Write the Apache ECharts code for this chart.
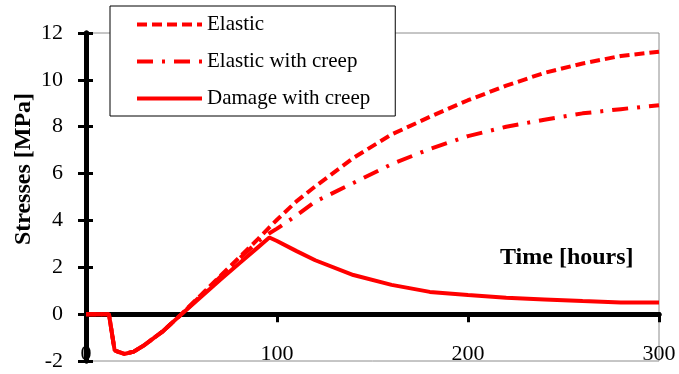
<!DOCTYPE html>
<html lang="en">
<head>
    <meta charset="UTF-8">
    <title>Stresses over time</title>
    <style>
        * { margin: 0; padding: 0; }
        html, body { width: 100%; height: 100%; background: #fff; }
        #main { width: 679px; height: 374px; }
    </style>
    <script src="https://cdn.jsdelivr.net/npm/echarts@6/dist/echarts.min.js"></script>
</head>
<body>
    <div id="main"></div>
<script>
    // time in hours, stresses in MPa
    var hours = [0, 12, 15, 20, 25, 30, 40, 50, 60, 70, 80, 90, 96, 100, 110, 120, 140, 160, 180, 200, 220, 240, 260, 280, 300];
    var elastic = [0, 0, -1.55, -1.7, -1.6, -1.35, -0.75, 0, 0.8, 1.6, 2.4, 3.2, 3.7, 4.03, 4.8, 5.45, 6.67, 7.67, 8.42, 9.13, 9.75, 10.3, 10.7, 11.02, 11.2];
    var elasticCreep = [0, 0, -1.55, -1.7, -1.6, -1.35, -0.75, 0, 0.78, 1.57, 2.35, 3.1, 3.45, 3.65, 4.2, 4.8, 5.6, 6.4, 7.05, 7.6, 8.0, 8.3, 8.57, 8.75, 8.92];
    var damageCreep = [0, 0, -1.55, -1.7, -1.6, -1.35, -0.75, 0, 0.72, 1.45, 2.15, 2.85, 3.27, 3.12, 2.7, 2.3, 1.67, 1.25, 0.95, 0.82, 0.7, 0.63, 0.56, 0.5, 0.5];
    var xTicks = [0, 100, 200, 300];
    var yTicks = [-2, 0, 2, 4, 6, 8, 10, 12];

    var serif = "'Times New Roman', 'Liberation Serif', serif";

    function pairs(vals) {
        return hours.map(function (h, i) { return [h, vals[i]]; });
    }

    function initEchart() {
        var xBase = {
            type: 'value',
            min: xTicks[0],
            max: xTicks[xTicks.length - 1],
            interval: 100,
            splitLine: { show: false },
            axisLine: { onZero: true, lineStyle: { color: '#000', width: 5 } }
        };
        var yBase = {
            type: 'value',
            position: 'left',
            min: yTicks[0],
            max: yTicks[yTicks.length - 1],
            interval: 2,
            splitLine: { show: false },
            axisLine: { onZero: true, lineStyle: { color: '#000', width: 5 } }
        };
        var option = {
            animation: false,
            grid: {
                left: 86,
                right: 20,
                top: 33,
                bottom: 13,
                containLabel: false,
                outerBoundsMode: 'none',
                show: true,
                borderColor: '#8c8c8c',
                borderWidth: 1,
                backgroundColor: '#fff'
            },
            legend: {
                orient: 'vertical',
                left: 110,
                top: 6,
                padding: [8, 25, 7, 25],
                itemWidth: 65,
                itemHeight: 14,
                itemGap: 16,
                backgroundColor: '#fff',
                borderColor: '#000',
                borderWidth: 1,
                borderRadius: 0,
                selectedMode: false,
                itemStyle: { color: 'rgba(0,0,0,0)', borderWidth: 0, opacity: 0 },
                lineStyle: { width: 4 },
                textStyle: { fontSize: 21, lineHeight: 21, fontFamily: serif, color: '#000' },
                data: ['Elastic', 'Elastic with creep', 'Damage with creep']
            },
            xAxis: [
                Object.assign({}, xBase, {
                    axisTick: { inside: false, length: 8, lineStyle: { color: '#000', width: 3 } },
                    axisLabel: { margin: -18, fontSize: 22, fontFamily: serif, color: '#000' }
                }),
                Object.assign({}, xBase, {
                    axisTick: { inside: true, length: 8, lineStyle: { color: '#000', width: 3 } },
                    axisLabel: { show: false }
                })
            ],
            yAxis: [
                Object.assign({}, yBase, {
                    axisTick: { inside: false, length: 8, lineStyle: { color: '#000', width: 3 } },
                    axisLabel: { margin: 23, fontSize: 22, fontFamily: serif, color: '#000' }
                }),
                Object.assign({}, yBase, {
                    axisTick: { inside: true, length: 7, lineStyle: { color: '#000', width: 3 } },
                    axisLabel: { show: false }
                })
            ],
            graphic: [
                {
                    type: 'text',
                    x: 24,
                    y: 169,
                    rotation: Math.PI / 2,
                    style: {
                        text: 'Stresses [MPa]',
                        font: 'bold 24px ' + serif,
                        fill: '#000',
                        textAlign: 'center',
                        textVerticalAlign: 'middle'
                    }
                },
                {
                    type: 'text',
                    x: 500,
                    y: 258,
                    style: {
                        text: 'Time [hours]',
                        font: 'bold 24px ' + serif,
                        fill: '#000',
                        textAlign: 'left',
                        textVerticalAlign: 'middle'
                    }
                }
            ],
            series: [
                {
                    name: 'Elastic',
                    type: 'line',
                    symbol: 'none',
                    lineStyle: { color: '#ff0000', width: 4, type: [10, 5] },
                    itemStyle: { color: '#ff0000' },
                    data: pairs(elastic)
                },
                {
                    name: 'Elastic with creep',
                    type: 'line',
                    symbol: 'none',
                    lineStyle: { color: '#ff0000', width: 4, type: [16, 9, 3, 9] },
                    itemStyle: { color: '#ff0000' },
                    data: pairs(elasticCreep)
                },
                {
                    name: 'Damage with creep',
                    type: 'line',
                    symbol: 'none',
                    lineStyle: { color: '#ff0000', width: 4 },
                    itemStyle: { color: '#ff0000' },
                    data: pairs(damageCreep)
                }
            ]
        };
        var myChart = echarts.init(document.getElementById('main'));
        myChart.setOption(option);
    }
    initEchart();
</script>
</body>
</html>
